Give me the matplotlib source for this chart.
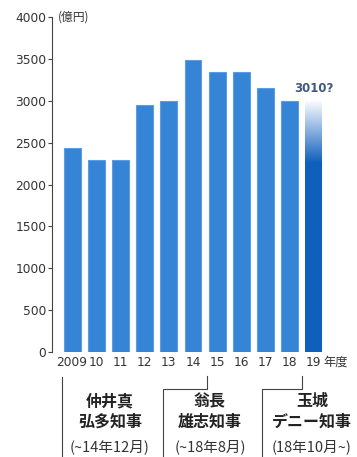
import matplotlib
matplotlib.use("Agg")
import matplotlib.pyplot as plt
import numpy as np
from matplotlib.lines import Line2D
from matplotlib.transforms import blended_transform_factory
from matplotlib.colors import to_rgb

plt.rcParams['font.family'] = ['Noto Sans CJK JP', 'DejaVu Sans']

years = [2009, 2010, 2011, 2012, 2013, 2014, 2015, 2016, 2017, 2018, 2019]
tick_labels = ["2009", "10", "11", "12", "13", "14", "15", "16", "17", "18", "19"]
values = [2430, 2290, 2290, 2950, 3000, 3490, 3340, 3340, 3150, 3000, 3010]
yticks = [0, 500, 1000, 1500, 2000, 2500, 3000, 3500, 4000]
last_label = "3010?"
unit_label = "(億円)"
year_suffix = "年度"
governors = [
    ("仲井真", "弘多知事", "(~14年12月)"),
    ("翁長", "雄志知事", "(~18年8月)"),
    ("玉城", "デニー知事", "(18年10月~)"),
]

W, H = 357, 457
fig = plt.figure(figsize=(W / 100, H / 100), dpi=100)
fig.patch.set_facecolor("white")

def fy(py):
    return 1 - py / H

ax = fig.add_axes([52 / W, 105 / H, (332 - 52) / W, 335 / H])
ax.set_facecolor("none")

bar_color = "#3684d5"
edge_color = "#5c9de2"
ax.bar(years[:-1], values[:-1], width=0.7, color=bar_color,
       edgecolor=edge_color, linewidth=0.8, zorder=2)
last = ax.bar([years[-1]], [values[-1]], width=0.7, facecolor="none",
              edgecolor="none", zorder=2)[0]

# gradient for the last (estimated) bar
x0 = last.get_x()
x1 = x0 + last.get_width()
top = last.get_height()
n = 200
base = np.array(to_rgb("#0f5fbd"))
img = np.zeros((n, 1, 4))
for i in range(n):
    t = i / (n - 1)
    img[i, 0, :3] = base
    img[i, 0, 3] = 1.0 if t < 0.75 else max(0.0, 1 - (t - 0.75) / 0.25)
ax.imshow(img, extent=[x0, x1, 0, top], origin="lower", aspect="auto", zorder=2,
          interpolation="bilinear")

ax.set_xlim(2008.17, 2019.75)
ax.set_ylim(0, 4000)
ax.set_yticks(yticks)
ax.set_yticklabels([str(v) for v in yticks], fontsize=8.8, color="#333333",
                   family=["DejaVu Sans"])
ax.tick_params(axis="y", length=3, width=0.8, pad=1, color="#444444")
ax.set_xticks(years)
ax.set_xticklabels(tick_labels, fontsize=8.8, color="#333333", family=["DejaVu Sans"])
ax.tick_params(axis="x", length=0, pad=3)
for s in ["top", "right", "bottom"]:
    ax.spines[s].set_visible(False)
ax.spines["left"].set_color("#444444")
ax.spines["left"].set_linewidth(0.8)

ax.text(2019.0, values[-1] + 60, last_label, ha="center", va="bottom",
        fontsize=8.5, fontweight="bold", color="#3d5a80", family=["DejaVu Sans"])

ax.annotate(unit_label, xy=(0, 1), xycoords="axes fraction", xytext=(4, 0),
            textcoords="offset points", ha="left", va="center", fontsize=8.5,
            color="#333333")
fig.text(323 / W, fy(362), year_suffix, ha="left", va="center", fontsize=8.8, color="#333333")

# brackets below
tr = blended_transform_factory(ax.transData, fig.transFigure)
lc = "#444444"
fig.add_artist(Line2D([2008.6, 2008.6], [fy(377), fy(460)], transform=tr, color=lc, lw=0.8))
for (xl, xr) in [(2012.78, 2014.6), (2016.85, 2018.5)]:
    fig.add_artist(Line2D([xl, xl, xr, xr], [fy(460), fy(389), fy(389), fy(376)],
                          transform=tr, color=lc, lw=0.8))

name_x = [110 / W, 210 / W, 312 / W]
for (n1, n2, date), xc in zip(governors, name_x):
    fig.text(xc, fy(401), n1, ha="center", va="center",
             fontsize=11.5, fontweight="bold", color="#222222")
    fig.text(xc, fy(422), n2, ha="center", va="center",
             fontsize=11.5, fontweight="bold", color="#222222")
    fig.text(xc, fy(447), date, ha="center", va="center",
             fontsize=10.5, color="#333333")

fig.savefig("out.png", dpi=100, facecolor=fig.get_facecolor())
